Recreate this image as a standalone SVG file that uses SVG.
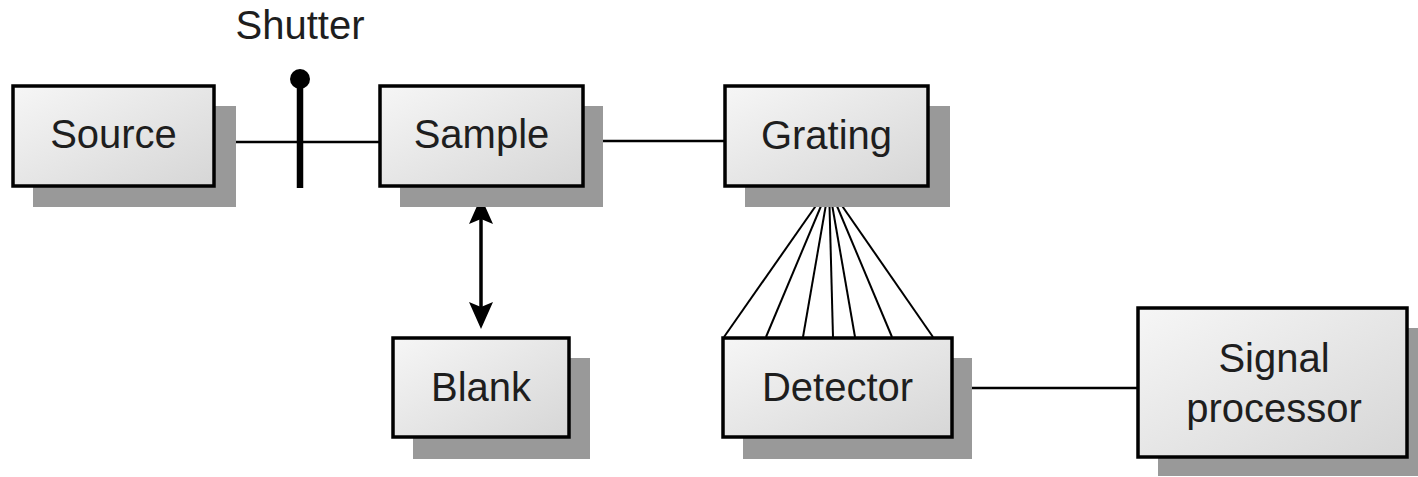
<svg xmlns="http://www.w3.org/2000/svg" width="1418" height="477" viewBox="0 0 1418 477">
<defs>
<linearGradient id="boxfill" x1="0" y1="0" x2="1" y2="1">
<stop offset="0" stop-color="#f6f6f6"/>
<stop offset="1" stop-color="#d6d6d6"/>
</linearGradient>
<style>
.shadow{fill:#999999;stroke:none}
.box{fill:url(#boxfill);stroke:#000;stroke-width:3.5}
.lbl{font-family:"Liberation Sans",Arial,sans-serif;font-size:40px;fill:#1e1e1e;text-anchor:middle}
.wire{stroke:#000;stroke-width:2.5;fill:none}
.ray{stroke:#000;stroke-width:2;fill:none}
.head{fill:#000;stroke:none}
</style>
</defs>
<rect width="1418" height="477" fill="#ffffff"/>
<g id="connectors">
<line class="wire" x1="215" y1="142" x2="380" y2="142"/>
<line class="wire" x1="584" y1="141" x2="725" y2="141"/>
<line class="wire" x1="952" y1="388" x2="1138" y2="388"/>
<line class="ray" x1="829" y1="187" x2="724" y2="337"/>
<line class="ray" x1="829" y1="187" x2="766" y2="337"/>
<line class="ray" x1="829" y1="187" x2="803" y2="337"/>
<line class="ray" x1="829" y1="187" x2="833" y2="337"/>
<line class="ray" x1="829" y1="187" x2="855" y2="337"/>
<line class="ray" x1="829" y1="187" x2="892" y2="337"/>
<line class="ray" x1="829" y1="187" x2="933" y2="337"/>
<line x1="481" y1="215" x2="481" y2="310" stroke="#000" stroke-width="3.5"/>
<polygon class="head" points="481,197 493,224 481,219 469,224"/>
<polygon class="head" points="481,329 493,302 481,307 469,302"/>
</g>
<g id="shutter">
<line x1="300" y1="82" x2="300" y2="188" stroke="#000" stroke-width="6.5"/>
<circle cx="300" cy="79" r="10" fill="#000"/>
<text class="lbl" x="300" y="39">Shutter</text>
</g>
<g id="source">
<rect class="shadow" x="33" y="106" width="203" height="101"/>
<rect class="box" x="13" y="86" width="201" height="100"/>
<text class="lbl" x="113.5" y="148">Source</text>
</g>
<g id="sample">
<rect class="shadow" x="400" y="106" width="203" height="101"/>
<rect class="box" x="380" y="86" width="203" height="100"/>
<text class="lbl" x="481.5" y="148">Sample</text>
</g>
<g id="grating">
<rect class="shadow" x="745" y="106" width="205" height="101"/>
<rect class="box" x="725" y="86" width="203" height="100"/>
<text class="lbl" x="826.5" y="149">Grating</text>
</g>
<g id="blank">
<rect class="shadow" x="413" y="358" width="177" height="101"/>
<rect class="box" x="393" y="338" width="176" height="99"/>
<text class="lbl" x="481" y="401">Blank</text>
</g>
<g id="detector">
<rect class="shadow" x="743" y="358" width="229" height="101"/>
<rect class="box" x="723" y="338" width="229" height="99"/>
<text class="lbl" x="837.5" y="401">Detector</text>
</g>
<g id="signal-processor">
<rect class="shadow" x="1158" y="328" width="270" height="148"/>
<rect class="box" x="1138" y="308" width="269" height="149"/>
<text class="lbl" x="1274" y="372">Signal</text>
<text class="lbl" x="1274" y="422">processor</text>
</g>
</svg>
